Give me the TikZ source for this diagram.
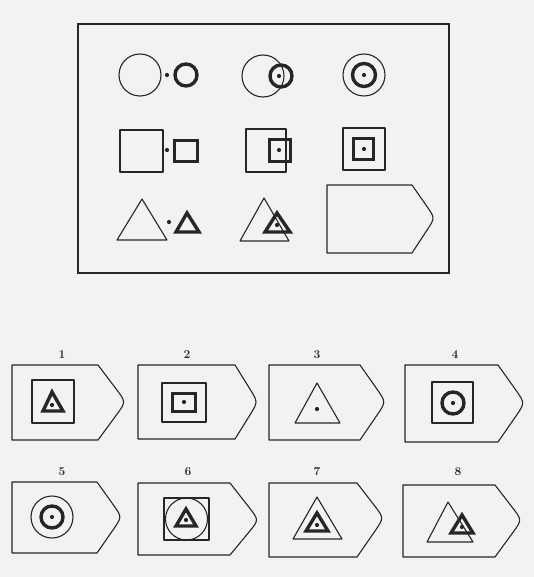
\documentclass[tikz,border=0pt]{standalone}
\usepackage{tikz}

\definecolor{ink}{gray}{0.15}
\definecolor{paper}{gray}{0.95}

% answer plate: left, top, corner x, tip x, mid y, bottom
\newcommand\drawplate[6]{%
  \draw[thinline] (#1,#2) -- (#3,#2)
    -- ({#4+4-0.35*(#4+4-#3)},{#5-0.35*(#5-#2)})
    .. controls ({#4+4},#5) .. ({#4+4-0.35*(#4+4-#3)},{#5+0.35*(#6-#5)})
    -- (#3,#6) -- (#1,#6) -- cycle;}
\newcommand\spot[2]{\fill[ink] (#1,#2) circle[radius=2.1];}

\begin{document}
\begin{tikzpicture}[
    x=1pt, y=-1pt,
    thinline/.style={draw=ink, line width=1.1pt, line join=round},
    heavyline/.style={draw=ink, line width=3.4pt, line join=miter},
    frameline/.style={draw=ink, line width=1.3pt},
    num/.style={font=\large\bfseries, text=ink, inner sep=0pt},
  ]
    \fill[paper] (0,0) rectangle (534,577);
    \useasboundingbox (0,0) rectangle (534,577);

    \draw[frameline] (78,24) rectangle (449,273);

    % row 1: circles
    \draw[thinline] (140,75) circle[radius=21];
    \spot{167}{75}
    \draw[heavyline] (186,75) circle[radius=11];
    \draw[thinline] (263,76) circle[radius=21];
    \draw[heavyline] (281,76) circle[radius=11];
    \spot{279}{76}
    \draw[thinline] (364,75) circle[radius=21];
    \draw[heavyline] (364,75) circle[radius=11.5];
    \spot{364}{75}

    % row 2: squares
    \draw[thinline] (120,130) rectangle (163,172);
    \spot{167}{150}
    \draw[heavyline] (174.5,140.5) rectangle (197.5,161.5);
    \draw[thinline] (246,129) rectangle (286,172);
    \draw[heavyline] (269.5,139.5) rectangle (290.5,161.5);
    \spot{279}{150}
    \draw[thinline] (343,128) rectangle (385,170);
    \draw[heavyline] (353.5,138.5) rectangle (373.5,159.5);
    \spot{364}{149}

    % row 3: triangles
    \draw[thinline] (142,199) -- (117,240) -- (167,240) -- cycle;
    \spot{169}{222}
    \draw[heavyline] (187,213) -- (176,232) -- (199,232) -- cycle;
    \draw[thinline] (264,198) -- (240,241) -- (289,241) -- cycle;
    \draw[heavyline] (277,213) -- (265,232) -- (290,232) -- cycle;
    \spot{277}{225}
    \drawplate{327}{185}{412}{431}{218}{253}

    % answers
    \node[num] (n1) at (62,355) {1};
    \drawplate{12}{365}{98}{122}{402}{440}
    \draw[thinline] (32,380) rectangle (74,423);
    \draw[heavyline] (52,392) -- (43,411) -- (63,411) -- cycle;
    \spot{52}{405}

    \node[num] (n2) at (187,355) {2};
    \drawplate{138}{365}{235}{254}{402}{439}
    \draw[thinline] (162,383) rectangle (206,422);
    \draw[heavyline] (172.5,393.5) rectangle (195.5,411.5);
    \spot{184}{402}

    \node[num] (n3) at (317,355) {3};
    \drawplate{269}{365}{360}{382}{402}{440}
    \draw[thinline] (317,383) -- (295,423) -- (340,423) -- cycle;
    \spot{317}{409}

    \node[num] (n4) at (455,355) {4};
    \drawplate{405}{365}{498}{521}{403}{442}
    \draw[thinline] (432,382) rectangle (473,423);
    \draw[heavyline] (453,403) circle[radius=11];
    \spot{453}{403}

    \node[num] (n5) at (62,472) {5};
    \drawplate{12}{482}{97}{118}{517}{553}
    \draw[thinline] (52,517) circle[radius=21];
    \draw[heavyline] (52,517) circle[radius=11];
    \spot{52}{517}

    \node[num] (n6) at (188,472) {6};
    \drawplate{138}{483}{230}{255}{520}{555}
    \draw[thinline] (164,498) rectangle (209,540);
    \draw[thinline] (186.5,519) circle[radius=21];
    \draw[heavyline] (186,509) -- (176,526) -- (196,526) -- cycle;
    \spot{186}{520}

    \node[num] (n7) at (317,472) {7};
    \drawplate{269}{483}{357}{380}{518}{557}
    \draw[thinline] (317,497) -- (293,539) -- (342,539) -- cycle;
    \draw[heavyline] (317,513) -- (306,531) -- (328,531) -- cycle;
    \spot{317}{525}

    \node[num] (n8) at (458,472) {8};
    \drawplate{403}{485}{495}{518}{520}{557}
    \draw[thinline] (448,502) -- (427,542) -- (473,542) -- cycle;
    \draw[heavyline] (462,515) -- (451,533) -- (473,533) -- cycle;
    \spot{462}{527}
  \end{tikzpicture}
\end{document}
